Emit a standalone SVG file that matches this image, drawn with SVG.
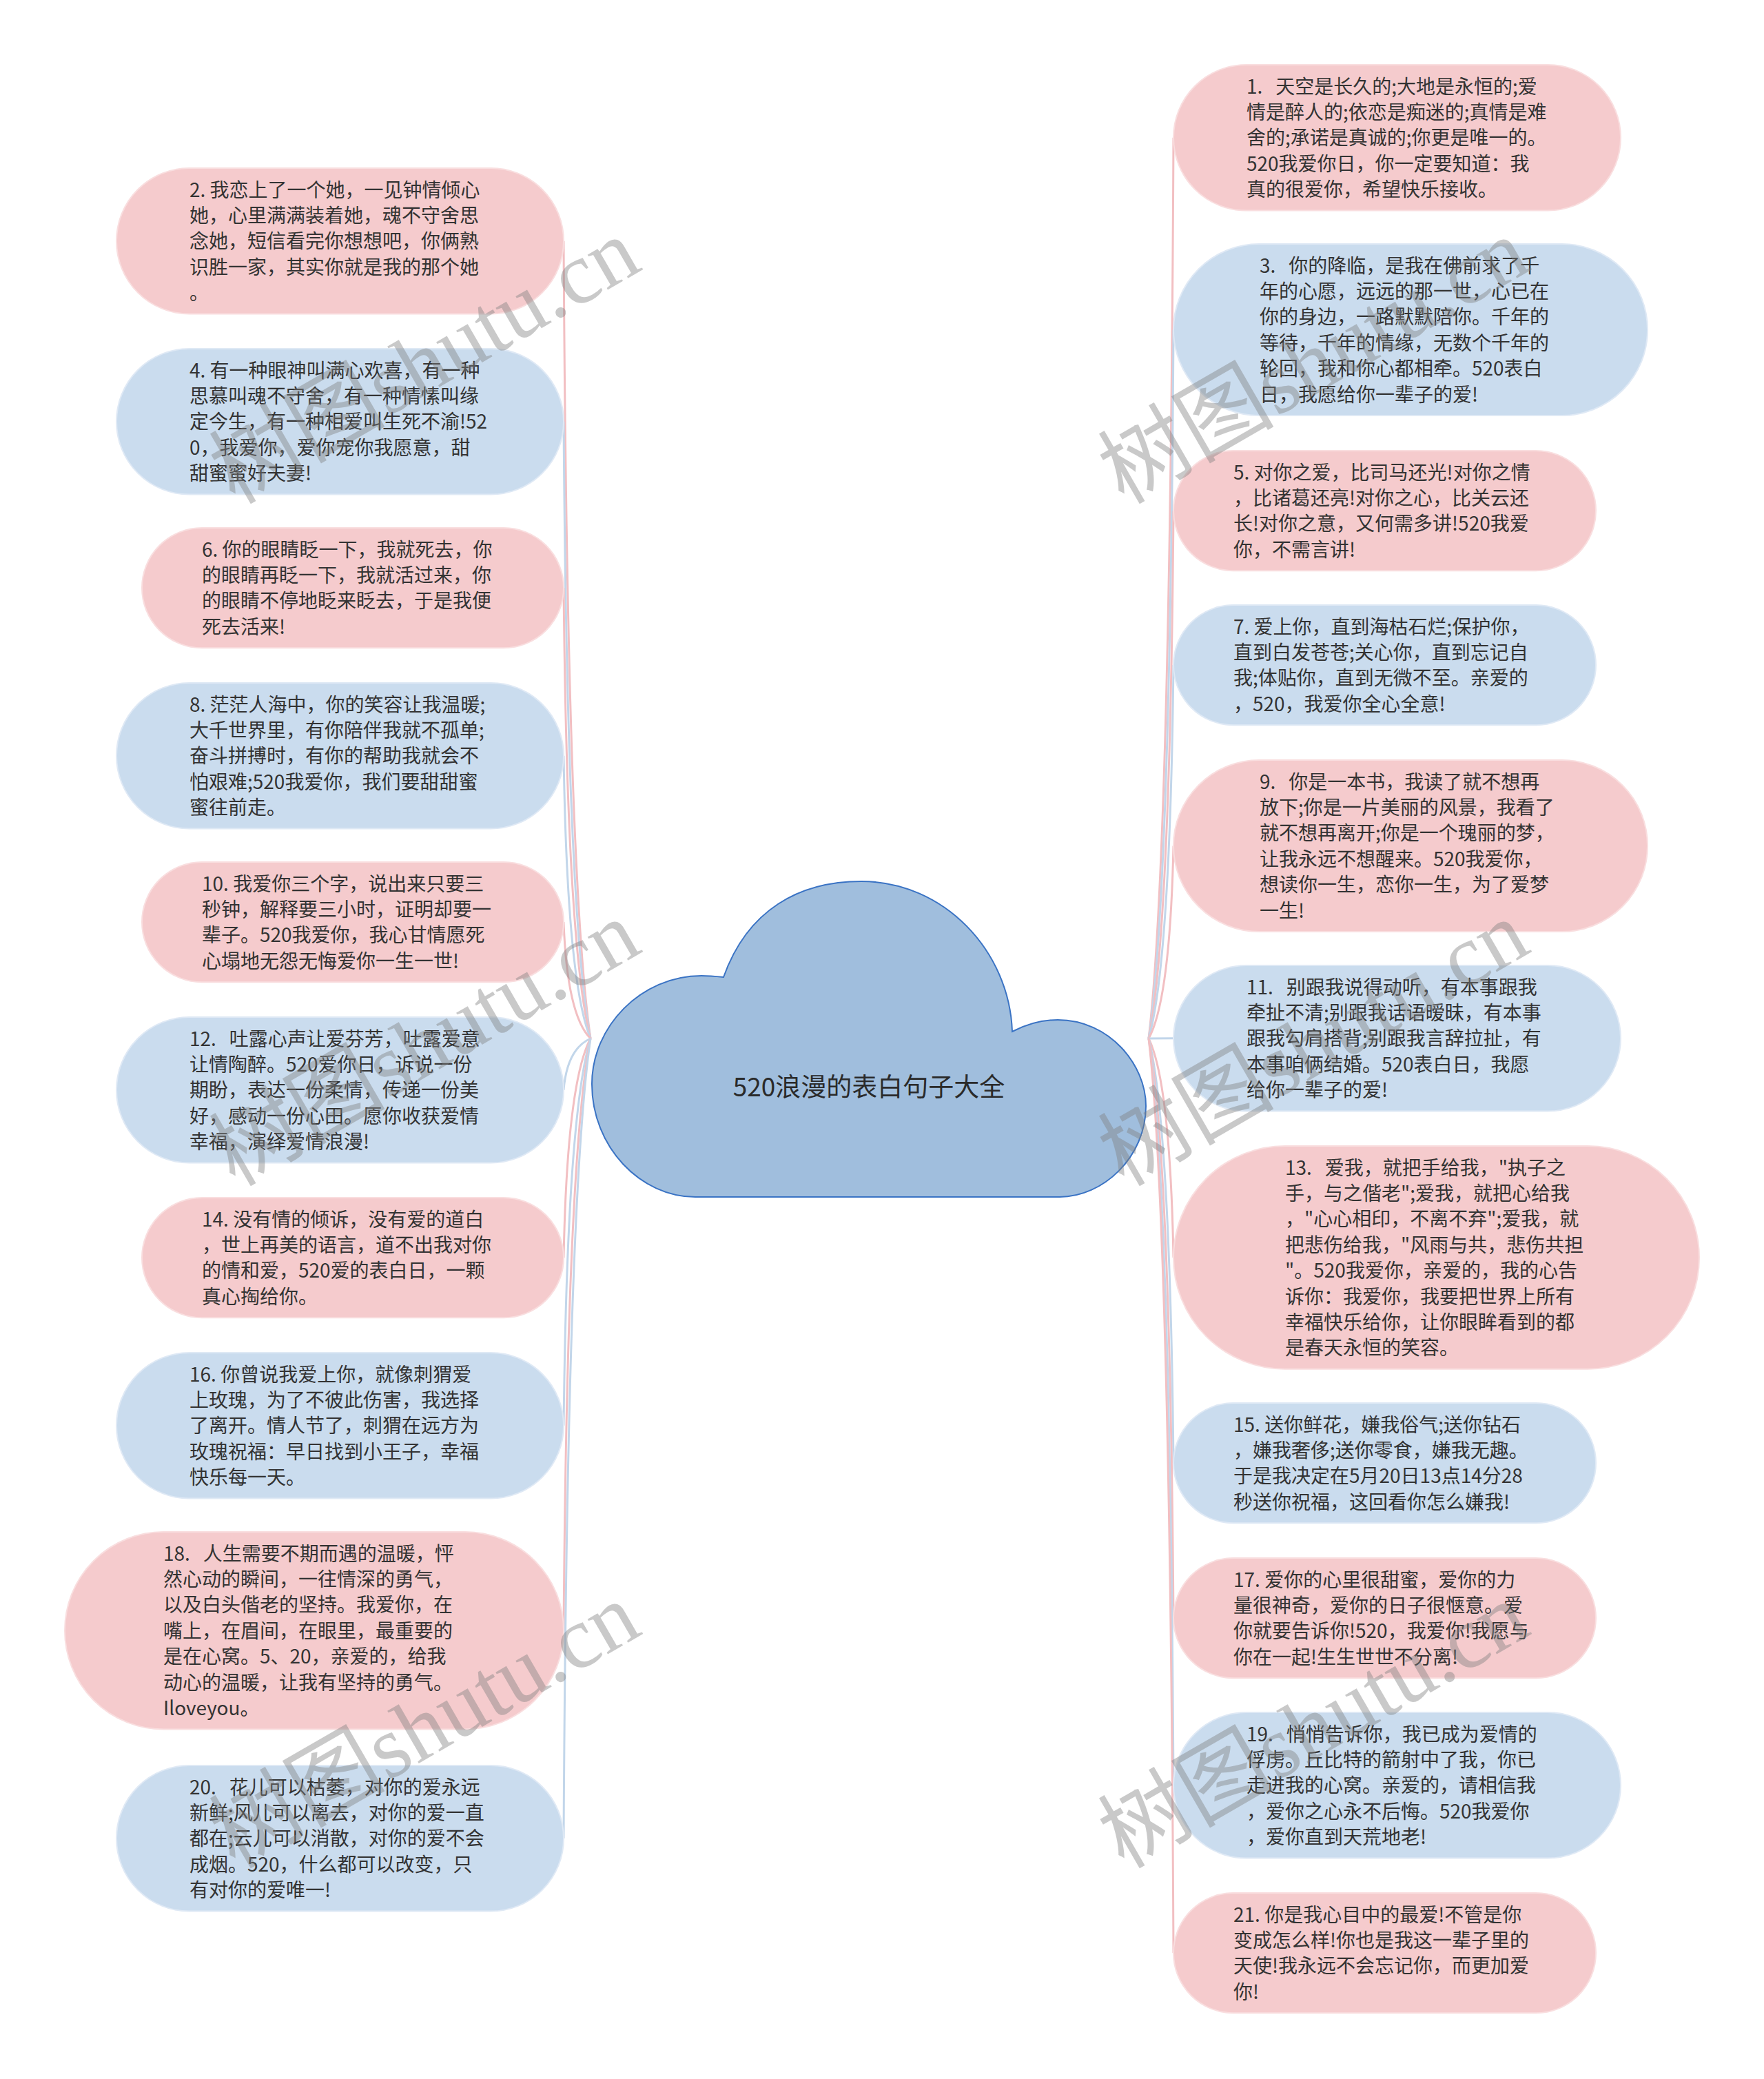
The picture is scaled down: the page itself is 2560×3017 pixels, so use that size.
<svg xmlns="http://www.w3.org/2000/svg" width="2560" height="3017" viewBox="0 0 2560 3017">
<style>
.pk{fill:#f5cbcd;stroke:#f9dedf;stroke-width:2}
.bl{fill:#cadcee;stroke:#dfe9f5;stroke-width:2}
.t{font-family:"Noto Sans CJK SC","Noto Sans",sans-serif;font-size:28px;fill:#333333;white-space:pre}
.lp{fill:none;stroke:#f2bfc2;stroke-width:3}
.lb{fill:none;stroke:#c2d6ea;stroke-width:3}
.wm{font-family:"Liberation Serif","Noto Sans CJK SC",serif;font-size:128px;fill:#808080;opacity:0.42}
.ct{font-family:"Noto Sans CJK SC","Noto Sans",sans-serif;font-size:37px;fill:#2a2a2a}
</style>
<rect width="2560" height="3017" fill="#ffffff"/>
<g id="connectors">
<path class="lp" d="M818 349.8 Q823 1275.6 857 1507"/>
<path class="lb" d="M818 611.8 Q823 1328 857 1507"/>
<path class="lp" d="M818 853.1 Q823 1376.2 857 1507"/>
<path class="lb" d="M818 1096.8 Q823 1425 857 1507"/>
<path class="lp" d="M818 1338.1 Q823 1473.2 857 1507"/>
<path class="lb" d="M818 1581.8 Q823 1522 857 1507"/>
<path class="lp" d="M818 1825.1 Q823 1570.6 857 1507"/>
<path class="lb" d="M818 2068.8 Q823 1619.4 857 1507"/>
<path class="lp" d="M818 2366.2 Q823 1678.8 857 1507"/>
<path class="lb" d="M818 2667.8 Q823 1739.2 857 1507"/>
<path class="lp" d="M1703 199.8 Q1698 1245.4 1667 1507"/>
<path class="lb" d="M1703 478.5 Q1698 1301.3 1667 1507"/>
<path class="lp" d="M1703 741.1 Q1698 1353.8 1667 1507"/>
<path class="lb" d="M1703 965.1 Q1698 1398.6 1667 1507"/>
<path class="lp" d="M1703 1227.5 Q1698 1451.1 1667 1507"/>
<path class="lb" d="M1703 1506.8 L1667 1507"/>
<path class="lp" d="M1703 1824.9 Q1698 1570.6 1667 1507"/>
<path class="lb" d="M1703 2123.1 Q1698 1630.2 1667 1507"/>
<path class="lp" d="M1703 2348.1 Q1698 1675.2 1667 1507"/>
<path class="lb" d="M1703 2590.8 Q1698 1723.8 1667 1507"/>
<path class="lp" d="M1703 2834.1 Q1698 1772.4 1667 1507"/>
</g>
<g id="root">
<path d="M1050 1418 C1085 1320 1160 1279 1250 1279 C1370 1279 1465 1380 1469 1497 C1490 1486 1510 1480 1535 1480 C1610 1480 1663 1545 1663 1605 C1663 1680 1600 1737 1538 1737 L1009 1737 C930 1737 859 1665 859 1573 C859 1490 930 1416 1018 1416 C1030 1416 1040 1417 1050 1418 Z" fill="#a0bedd" stroke="#3a73c4" stroke-width="2"/>
<text class="ct" x="1261" y="1591" text-anchor="middle">520浪漫的表白句子大全</text>
</g>
<g id="n2"><rect class="pk" x="169" y="244" width="649" height="211.6" rx="105.8"/>
<text class="t" y="285.5"><tspan x="275">2. 我恋上了一个她，一见钟情倾心</tspan><tspan x="275" dy="37.4">她，心里满满装着她，魂不守舍思</tspan><tspan x="275" dy="37.4">念她，短信看完你想想吧，你俩熟</tspan><tspan x="275" dy="37.4">识胜一家，其实你就是我的那个她</tspan><tspan x="275" dy="37.4">。</tspan></text></g>
<g id="n4"><rect class="bl" x="169" y="506" width="649" height="211.6" rx="105.8"/>
<text class="t" y="547.5"><tspan x="275">4. 有一种眼神叫满心欢喜，有一种</tspan><tspan x="275" dy="37.4">思慕叫魂不守舍，有一种情愫叫缘</tspan><tspan x="275" dy="37.4">定今生，有一种相爱叫生死不渝!52</tspan><tspan x="275" dy="37.4">0，我爱你，爱你宠你我愿意，甜</tspan><tspan x="275" dy="37.4">甜蜜蜜好夫妻!</tspan></text></g>
<g id="n6"><rect class="pk" x="206" y="766" width="612" height="174.2" rx="87.1"/>
<text class="t" y="807.5"><tspan x="293">6. 你的眼睛眨一下，我就死去，你</tspan><tspan x="293" dy="37.4">的眼睛再眨一下，我就活过来，你</tspan><tspan x="293" dy="37.4">的眼睛不停地眨来眨去，于是我便</tspan><tspan x="293" dy="37.4">死去活来!</tspan></text></g>
<g id="n8"><rect class="bl" x="169" y="991" width="649" height="211.6" rx="105.8"/>
<text class="t" y="1032.5"><tspan x="275">8. 茫茫人海中，你的笑容让我温暖;</tspan><tspan x="275" dy="37.4">大千世界里，有你陪伴我就不孤单;</tspan><tspan x="275" dy="37.4">奋斗拼搏时，有你的帮助我就会不</tspan><tspan x="275" dy="37.4">怕艰难;520我爱你，我们要甜甜蜜</tspan><tspan x="275" dy="37.4">蜜往前走。</tspan></text></g>
<g id="n10"><rect class="pk" x="206" y="1251" width="612" height="174.2" rx="87.1"/>
<text class="t" y="1292.5"><tspan x="293">10. 我爱你三个字，说出来只要三</tspan><tspan x="293" dy="37.4">秒钟，解释要三小时，证明却要一</tspan><tspan x="293" dy="37.4">辈子。520我爱你，我心甘情愿死</tspan><tspan x="293" dy="37.4">心塌地无怨无悔爱你一生一世!</tspan></text></g>
<g id="n12"><rect class="bl" x="169" y="1476" width="649" height="211.6" rx="105.8"/>
<text class="t" y="1517.5"><tspan x="275">12.   吐露心声让爱芬芳，吐露爱意</tspan><tspan x="275" dy="37.4">让情陶醉。520爱你日，诉说一份</tspan><tspan x="275" dy="37.4">期盼，表达一份柔情，传递一份美</tspan><tspan x="275" dy="37.4">好，感动一份心田。愿你收获爱情</tspan><tspan x="275" dy="37.4">幸福，演绎爱情浪漫!</tspan></text></g>
<g id="n14"><rect class="pk" x="206" y="1738" width="612" height="174.2" rx="87.1"/>
<text class="t" y="1779.5"><tspan x="293">14. 没有情的倾诉，没有爱的道白</tspan><tspan x="293" dy="37.4">，世上再美的语言，道不出我对你</tspan><tspan x="293" dy="37.4">的情和爱，520爱的表白日，一颗</tspan><tspan x="293" dy="37.4">真心掏给你。</tspan></text></g>
<g id="n16"><rect class="bl" x="169" y="1963" width="649" height="211.6" rx="105.8"/>
<text class="t" y="2004.5"><tspan x="275">16. 你曾说我爱上你，就像刺猬爱</tspan><tspan x="275" dy="37.4">上玫瑰，为了不彼此伤害，我选择</tspan><tspan x="275" dy="37.4">了离开。情人节了，刺猬在远方为</tspan><tspan x="275" dy="37.4">玫瑰祝福：早日找到小王子，幸福</tspan><tspan x="275" dy="37.4">快乐每一天。</tspan></text></g>
<g id="n18"><rect class="pk" x="94" y="2223" width="724" height="286.4" rx="143.2"/>
<text class="t" y="2264.5"><tspan x="237">18.   人生需要不期而遇的温暖，怦</tspan><tspan x="237" dy="37.4">然心动的瞬间，一往情深的勇气，</tspan><tspan x="237" dy="37.4">以及白头偕老的坚持。我爱你，在</tspan><tspan x="237" dy="37.4">嘴上，在眉间，在眼里，最重要的</tspan><tspan x="237" dy="37.4">是在心窝。5、20，亲爱的，给我</tspan><tspan x="237" dy="37.4">动心的温暖，让我有坚持的勇气。</tspan><tspan x="237" dy="37.4">Iloveyou。</tspan></text></g>
<g id="n20"><rect class="bl" x="169" y="2562" width="649" height="211.6" rx="105.8"/>
<text class="t" y="2603.5"><tspan x="275">20.   花儿可以枯萎，对你的爱永远</tspan><tspan x="275" dy="37.4">新鲜;风儿可以离去，对你的爱一直</tspan><tspan x="275" dy="37.4">都在;云儿可以消散，对你的爱不会</tspan><tspan x="275" dy="37.4">成烟。520，什么都可以改变，只</tspan><tspan x="275" dy="37.4">有对你的爱唯一!</tspan></text></g>
<g id="n1"><rect class="pk" x="1703" y="94" width="649" height="211.6" rx="105.8"/>
<text class="t" y="135.5"><tspan x="1809">1.   天空是长久的;大地是永恒的;爱</tspan><tspan x="1809" dy="37.4">情是醉人的;依恋是痴迷的;真情是难</tspan><tspan x="1809" dy="37.4">舍的;承诺是真诚的;你更是唯一的。</tspan><tspan x="1809" dy="37.4">520我爱你日，你一定要知道：我</tspan><tspan x="1809" dy="37.4">真的很爱你，希望快乐接收。</tspan></text></g>
<g id="n3"><rect class="bl" x="1703" y="354" width="688" height="249" rx="124.5"/>
<text class="t" y="395.5"><tspan x="1828">3.   你的降临，是我在佛前求了千</tspan><tspan x="1828" dy="37.4">年的心愿，远远的那一世，心已在</tspan><tspan x="1828" dy="37.4">你的身边，一路默默陪你。千年的</tspan><tspan x="1828" dy="37.4">等待，千年的情缘，无数个千年的</tspan><tspan x="1828" dy="37.4">轮回，我和你心都相牵。520表白</tspan><tspan x="1828" dy="37.4">日，我愿给你一辈子的爱!</tspan></text></g>
<g id="n5"><rect class="pk" x="1703" y="654" width="613" height="174.2" rx="87.1"/>
<text class="t" y="695.5"><tspan x="1790">5. 对你之爱，比司马还光!对你之情</tspan><tspan x="1790" dy="37.4">，比诸葛还亮!对你之心，比关云还</tspan><tspan x="1790" dy="37.4">长!对你之意，又何需多讲!520我爱</tspan><tspan x="1790" dy="37.4">你，不需言讲!</tspan></text></g>
<g id="n7"><rect class="bl" x="1703" y="878" width="613" height="174.2" rx="87.1"/>
<text class="t" y="919.5"><tspan x="1790">7. 爱上你，直到海枯石烂;保护你，</tspan><tspan x="1790" dy="37.4">直到白发苍苍;关心你，直到忘记自</tspan><tspan x="1790" dy="37.4">我;体贴你，直到无微不至。亲爱的</tspan><tspan x="1790" dy="37.4">，520，我爱你全心全意!</tspan></text></g>
<g id="n9"><rect class="pk" x="1703" y="1103" width="688" height="249" rx="124.5"/>
<text class="t" y="1144.5"><tspan x="1828">9.   你是一本书，我读了就不想再</tspan><tspan x="1828" dy="37.4">放下;你是一片美丽的风景，我看了</tspan><tspan x="1828" dy="37.4">就不想再离开;你是一个瑰丽的梦，</tspan><tspan x="1828" dy="37.4">让我永远不想醒来。520我爱你，</tspan><tspan x="1828" dy="37.4">想读你一生，恋你一生，为了爱梦</tspan><tspan x="1828" dy="37.4">一生!</tspan></text></g>
<g id="n11"><rect class="bl" x="1703" y="1401" width="649" height="211.6" rx="105.8"/>
<text class="t" y="1442.5"><tspan x="1809">11.   别跟我说得动听，有本事跟我</tspan><tspan x="1809" dy="37.4">牵扯不清;别跟我话语暧昧，有本事</tspan><tspan x="1809" dy="37.4">跟我勾肩搭背;别跟我言辞拉扯，有</tspan><tspan x="1809" dy="37.4">本事咱俩结婚。520表白日，我愿</tspan><tspan x="1809" dy="37.4">给你一辈子的爱!</tspan></text></g>
<g id="n13"><rect class="pk" x="1703" y="1663" width="763" height="323.8" rx="161.9"/>
<text class="t" y="1704.5"><tspan x="1865">13.   爱我，就把手给我，"执子之</tspan><tspan x="1865" dy="37.4">手，与之偕老";爱我，就把心给我</tspan><tspan x="1865" dy="37.4">，"心心相印，不离不弃";爱我，就</tspan><tspan x="1865" dy="37.4">把悲伤给我，"风雨与共，悲伤共担</tspan><tspan x="1865" dy="37.4">"。520我爱你，亲爱的，我的心告</tspan><tspan x="1865" dy="37.4">诉你：我爱你，我要把世界上所有</tspan><tspan x="1865" dy="37.4">幸福快乐给你，让你眼眸看到的都</tspan><tspan x="1865" dy="37.4">是春天永恒的笑容。</tspan></text></g>
<g id="n15"><rect class="bl" x="1703" y="2036" width="613" height="174.2" rx="87.1"/>
<text class="t" y="2077.5"><tspan x="1790">15. 送你鲜花，嫌我俗气;送你钻石</tspan><tspan x="1790" dy="37.4">，嫌我奢侈;送你零食，嫌我无趣。</tspan><tspan x="1790" dy="37.4">于是我决定在5月20日13点14分28</tspan><tspan x="1790" dy="37.4">秒送你祝福，这回看你怎么嫌我!</tspan></text></g>
<g id="n17"><rect class="pk" x="1703" y="2261" width="613" height="174.2" rx="87.1"/>
<text class="t" y="2302.5"><tspan x="1790">17. 爱你的心里很甜蜜，爱你的力</tspan><tspan x="1790" dy="37.4">量很神奇，爱你的日子很惬意。爱</tspan><tspan x="1790" dy="37.4">你就要告诉你!520，我爱你!我愿与</tspan><tspan x="1790" dy="37.4">你在一起!生生世世不分离!</tspan></text></g>
<g id="n19"><rect class="bl" x="1703" y="2485" width="649" height="211.6" rx="105.8"/>
<text class="t" y="2526.5"><tspan x="1809">19.   悄悄告诉你，我已成为爱情的</tspan><tspan x="1809" dy="37.4">俘虏。丘比特的箭射中了我，你已</tspan><tspan x="1809" dy="37.4">走进我的心窝。亲爱的，请相信我</tspan><tspan x="1809" dy="37.4">，爱你之心永不后悔。520我爱你</tspan><tspan x="1809" dy="37.4">，爱你直到天荒地老!</tspan></text></g>
<g id="n21"><rect class="pk" x="1703" y="2747" width="613" height="174.2" rx="87.1"/>
<text class="t" y="2788.5"><tspan x="1790">21. 你是我心目中的最爱!不管是你</tspan><tspan x="1790" dy="37.4">变成怎么样!你也是我这一辈子里的</tspan><tspan x="1790" dy="37.4">天使!我永远不会忘记你，而更加爱</tspan><tspan x="1790" dy="37.4">你!</tspan></text></g>
<g id="watermarks">
<text class="wm" x="935" y="390" text-anchor="end" transform="rotate(-30 935 390)">树图shutu.cn</text>
<text class="wm" x="935" y="1380" text-anchor="end" transform="rotate(-30 935 1380)">树图shutu.cn</text>
<text class="wm" x="935" y="2370" text-anchor="end" transform="rotate(-30 935 2370)">树图shutu.cn</text>
<text class="wm" x="2225" y="390" text-anchor="end" transform="rotate(-30 2225 390)">树图shutu.cn</text>
<text class="wm" x="2225" y="1380" text-anchor="end" transform="rotate(-30 2225 1380)">树图shutu.cn</text>
<text class="wm" x="2225" y="2370" text-anchor="end" transform="rotate(-30 2225 2370)">树图shutu.cn</text>
</g>
</svg>
